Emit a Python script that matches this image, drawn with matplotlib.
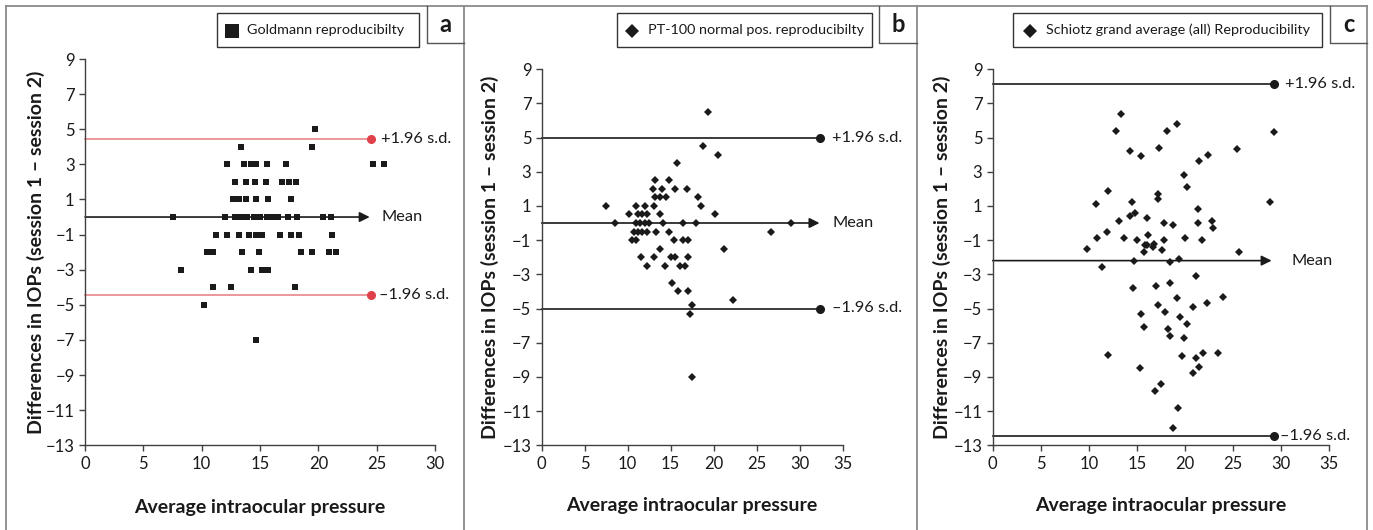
import matplotlib
matplotlib.use("Agg")
import matplotlib.pyplot as plt
from matplotlib.lines import Line2D
from matplotlib.patches import Rectangle

plt.rcParams['font.family'] = ['Lato', 'DejaVu Sans']

W, H = 1373, 530

# panel a: Goldmann (rows of equal difference)
gold_x = [19.7,
          13.4, 19.5,
          12.2, 13.6, 14.2, 14.7, 15.6, 17.2, 24.7, 25.6,
          12.9, 13.8, 14.6, 15.5, 16.9, 17.5, 18.1,
          12.7, 13.2, 13.8, 14.7, 15.7, 17.7,
          7.5, 12.0, 12.9, 13.4, 13.9, 14.5, 15.0, 15.6, 16.1, 16.5, 17.4, 18.2, 20.4, 21.1,
          11.2, 12.2, 13.2, 14.1, 14.7, 15.2, 16.7, 17.7, 18.3, 21.2,
          10.5, 11.0, 13.5, 14.9, 18.5, 19.5, 20.9, 21.5,
          8.2, 14.2, 15.2, 15.7,
          11.0, 12.5, 18.0,
          10.2,
          14.7]
gold_y = [5,
          4, 4,
          3, 3, 3, 3, 3, 3, 3, 3,
          2, 2, 2, 2, 2, 2, 2,
          1, 1, 1, 1, 1, 1,
          0, 0, 0, 0, 0, 0, 0, 0, 0, 0, 0, 0, 0, 0,
          -1, -1, -1, -1, -1, -1, -1, -1, -1, -1,
          -2, -2, -2, -2, -2, -2, -2, -2,
          -3, -3, -3, -3,
          -4, -4, -4,
          -5,
          -7]
gold_lines = [0.0, 4.45, -4.45]   # mean, +1.96 s.d., -1.96 s.d.

# panel b: PT-100 normal position
pt_x = [19.3, 18.7, 20.5, 15.7, 13.2, 14.8, 12.9, 14.0, 15.5, 16.9,
        13.2, 13.8, 14.4, 18.2, 7.5, 11.0, 12.0, 13.0, 18.5, 10.2,
        11.2, 11.7, 12.2, 13.8, 20.2, 8.5, 11.0, 11.4, 12.0, 12.5,
        14.1, 16.4, 17.9, 29.0, 26.7, 10.7, 11.2, 11.7, 12.2, 13.3,
        14.8, 10.5, 11.0, 15.4, 16.4, 17.0, 13.8, 21.2, 11.5, 13.0,
        15.0, 15.5, 17.0, 12.2, 14.3, 16.1, 16.7, 15.2, 15.9, 17.0,
        22.2, 17.5, 17.2, 17.5]
pt_y = [6.5, 4.5, 4.0, 3.5, 2.5, 2.5, 2.0, 2.0, 2.0, 2.0,
        1.5, 1.5, 1.5, 1.5, 1.0, 1.0, 1.0, 1.0, 1.0, 0.5,
        0.5, 0.5, 0.5, 0.5, 0.5, 0.0, 0.0, 0.0, 0.0, 0.0,
        0.0, 0.0, 0.0, 0.0, -0.5, -0.5, -0.5, -0.5, -0.5, -0.5,
        -0.55, -1.0, -1.0, -1.0, -1.0, -1.0, -1.5, -1.5, -2.0, -2.0,
        -2.0, -2.0, -2.0, -2.5, -2.5, -2.5, -2.5, -3.5, -4.0, -4.0,
        -4.5, -4.8, -5.3, -9.0]
pt_lines = [0.0, 5.0, -5.0]

# panel c: Schiotz grand average
sch_x = [13.3, 12.8, 18.1, 19.2, 29.2, 14.3, 15.4, 17.3, 22.4, 21.4,
         25.4, 19.9, 20.2, 12.0, 17.2, 17.2, 10.7, 14.5, 28.8, 14.8,
         14.3, 16.0, 13.1, 21.3, 21.3, 22.8, 22.9, 17.8, 18.7, 10.8,
         11.9, 13.7, 15.0, 16.2, 15.8, 16.0, 16.8, 16.7, 17.8, 17.6,
         15.7, 20.0, 21.8, 9.8, 25.6, 14.7, 11.4, 18.4, 19.4, 21.1,
         14.6, 17.0, 18.4, 19.2, 23.9, 22.3, 20.8, 17.2, 17.9, 15.4,
         19.5, 20.2, 15.7, 18.2, 18.4, 19.9, 12.0, 19.7, 21.1, 21.9,
         23.4, 21.5, 20.8, 15.3, 17.5, 16.9, 19.3, 18.7]
sch_y = [6.4, 5.4, 5.4, 5.8, 5.3, 4.2, 3.9, 4.4, 4.0, 3.6,
         4.3, 2.8, 2.1, 1.9, 1.7, 1.4, 1.1, 1.2, 1.2, 0.6,
         0.4, 0.3, 0.1, 0.8, 0.0, 0.1, -0.3, 0.0, -0.1, -0.9,
         -0.5, -0.9, -1.0, -0.7, -1.3, -1.3, -1.2, -1.4, -1.0, -1.6,
         -1.7, -0.9, -1.0, -1.5, -1.7, -2.2, -2.6, -2.3, -2.1, -3.1,
         -3.8, -3.7, -3.5, -4.4, -4.3, -4.7, -4.9, -4.8, -5.2, -5.3,
         -5.5, -5.9, -6.1, -6.2, -6.6, -6.7, -7.7, -7.8, -7.9, -7.6,
         -7.6, -8.4, -8.8, -8.5, -9.4, -9.8, -10.8, -12.0]
sch_lines = [-2.2, 8.1, -12.45]

ink = '#1a1a1a'
axis_grey = '#404040'
frame_grey = '#8a8a8a'

fig = plt.figure(figsize=(W / 100, H / 100), dpi=100)


def fx(x):
    return x / W


def fy(y):
    return 1 - y / H


def panel(left, right, top, xmax, xs, ys, lines, marker, ms, ends, txt_x,
          lim_color, dot_color, ylab_x):
    bottom = 445.3
    ax = fig.add_axes([fx(left), fy(bottom), fx(right - left), (bottom - top) / H])
    ax.set_xlim(0, xmax)
    ax.set_ylim(-13, 9)
    ax.set_xticks(range(0, xmax + 1, 5))
    ax.set_yticks(range(-13, 10, 2))
    for s in ['top', 'right']:
        ax.spines[s].set_visible(False)
    for s in ['left', 'bottom']:
        ax.spines[s].set_color(axis_grey)
        ax.spines[s].set_linewidth(1.0)
    ax.tick_params(direction='out', length=4.5, width=1.0, color=axis_grey,
                   labelsize=12, labelcolor=ink, pad=3)

    mean, hi, lo = lines
    arrow_end, dot_end = ends
    ax.plot([0, dot_end], [hi, hi], color=lim_color, lw=1.2, clip_on=False, zorder=2)
    ax.plot([0, dot_end], [lo, lo], color=lim_color, lw=1.2, clip_on=False, zorder=2)
    ax.plot([dot_end, dot_end], [hi, lo], 'o', color=dot_color, ms=5.5, ls='',
            clip_on=False, zorder=3)
    ax.annotate('', xy=(arrow_end, mean), xytext=(0, mean),
                arrowprops=dict(arrowstyle='-|>', color=ink, lw=1.2,
                                mutation_scale=15, shrinkA=0, shrinkB=0),
                annotation_clip=False, zorder=2)

    ax.plot(xs, ys, marker=marker, ls='', color=ink, ms=ms, mew=0, zorder=4,
            clip_on=False)

    tx_hi, tx_mean, tx_lo = txt_x
    ax.text(tx_hi, hi, '+1.96 s.d.', fontsize=11.8, color=ink, va='center', clip_on=False)
    ax.text(tx_mean, mean, 'Mean', fontsize=11.8, color=ink, va='center', clip_on=False)
    ax.text(tx_lo, lo, '\u20131.96 s.d.', fontsize=11.8, color=ink, va='center', clip_on=False)

    ax.set_xlabel('Average intraocular pressure', fontsize=14, fontweight='bold', color=ink)
    ax.xaxis.set_label_coords(0.5, -0.16)
    ax.xaxis.label.set_verticalalignment('center')
    ax.set_ylabel('Differences in IOPs (session 1 \u2013 session 2)', fontsize=14,
                  fontweight='bold', color=ink)
    ax.yaxis.set_label_coords((ylab_x - left) / (right - left), 0.5)
    ax.yaxis.label.set_verticalalignment('center')
    return ax


panel(85, 435, 59, 30, gold_x, gold_y, gold_lines, 's', 4.8, (24.4, 24.5),
      (25.4, 25.4, 25.2), '#e8858a', '#e0404a', 36)
panel(541.7, 842.7, 69.1, 35, pt_x, pt_y, pt_lines, 'D', 3.6, (32.3, 32.4),
      (33.8, 33.8, 33.75), ink, ink, 490)
panel(992.7, 1329.3, 69.1, 35, sch_x, sch_y, sch_lines, 'D', 3.6, (29.0, 29.2),
      (30.4, 31.1, 29.9), ink, ink, 942)

# panel frames
fig.add_artist(Line2D([fx(6), fx(1367)], [fy(6), fy(6)], color=frame_grey, lw=1.3))
for xv in [6, 464, 917, 1367]:
    fig.add_artist(Line2D([fx(xv), fx(xv)], [fy(6), fy(530)], color=frame_grey, lw=1.3))

# panel letters
for letter, x0, x1 in [('a', 426.7, 464), ('b', 879.3, 917), ('c', 1330, 1367)]:
    fig.add_artist(Line2D([fx(x0), fx(x0), fx(x1)], [fy(6), fy(43.3), fy(43.3)],
                          color='#555555', lw=1.0))
    fig.text(fx((x0 + x1) / 2), fy(24), letter, fontsize=17, fontweight='bold',
             color=ink, ha='center', va='center')

# legend boxes
legends = [
    (217.3, 419, 232.3, 247, 's', 10, 'Goldmann reproducibilty'),
    (617.3, 872.3, 632, 648.3, 'D', 7, 'PT-100 normal pos. reproducibilty'),
    (1013, 1321.7, 1030.3, 1045.7, 'D', 7, 'Schiotz grand average (all) Reproducibility'),
]
for x0, x1, mx, tx, mk, mks, label in legends:
    fig.add_artist(Rectangle((fx(x0), fy(46.7)), fx(x1 - x0), 33.4 / H,
                             transform=fig.transFigure, facecolor='white',
                             edgecolor='#333333', lw=1.0))
    fig.add_artist(Line2D([fx(mx)], [fy(30.5)], marker=mk, ms=mks, color=ink,
                          mew=0, ls=''))
    fig.text(fx(tx), fy(30), label, fontsize=10.4, color=ink, va='center')

fig.savefig('out.png', dpi=100, facecolor='white')
